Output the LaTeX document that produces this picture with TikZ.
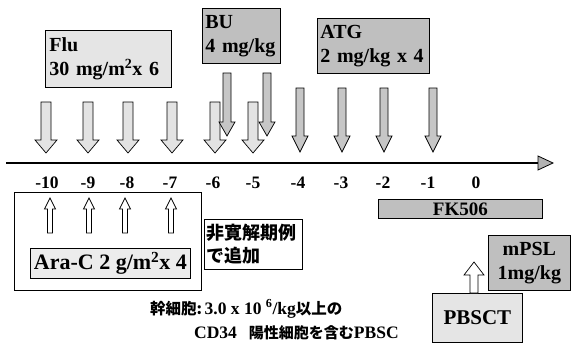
\documentclass[tikz,border=0pt]{standalone}
\usepackage{fontspec}
\setmainfont{Liberation Serif}
\newfontfamily\jp{Noto Sans CJK JP}
\newcommand{\blkarrow}[7][]{%
  \path[#1] ({#2-#6},#3) -- ({#2+#6},#3) -- ({#2+#6},#4) -- ({#2+#7},#4) -- (#2,#5) -- ({#2-#7},#4) -- ({#2-#6},#4) -- cycle;}
\tikzset{
  box/.style={draw=black, line width=0.8pt, inner sep=3pt, anchor=north west},
  darkfill/.style={fill=gray!50},
  lightfill/.style={fill=gray!20},
  bigtxt/.style={font=\fontsize{20}{24}\selectfont\bfseries},
  ticklbl/.style={font=\fontsize{17.5}{18}\selectfont\bfseries, inner sep=0pt},
  arr/.style={draw=black, line width=0.7pt},
  lightarr/.style={arr, fill=gray!22},
  darkarr/.style={arr, fill=gray!45},
  whitearr/.style={arr, fill=white},
  stemtxt/.style={anchor=west, inner sep=0pt, font=\fontsize{15.5}{18}\selectfont\bfseries},
}
\newcommand{\serifpart}[1]{{\fontsize{17.5}{18}\selectfont #1}}
\begin{document}
\begin{tikzpicture}[x=1pt, y=-1pt]
\useasboundingbox (0,0) rectangle (571,351);
% top boxes
\node[box, lightfill, bigtxt, minimum width=126pt, minimum height=57pt, text width=118pt, align=left] (flu) at (45,30) {Flu\\30 mg/m\textsuperscript{2}x 6};
\node[box, darkfill, bigtxt, minimum width=78pt, minimum height=55pt, text width=72pt, align=left] (bu) at (202,8) {BU\\4 mg/kg};
\node[box, darkfill, bigtxt, minimum width=112pt, minimum height=55pt, text width=106pt, align=left] (atg) at (317,18) {ATG\\2 mg/kg x 4};
% Flu arrows
\foreach \cx in {46,88,128,172,215,253} {
  \blkarrow[lightarr]{\cx}{102}{140}{153}{5}{11}
}
% BU arrows
\foreach \cx in {227,267} {
  \blkarrow[darkarr]{\cx}{73}{122}{136}{4}{8}
}
% ATG arrows
\foreach \cx in {300,342,384,433} {
  \blkarrow[darkarr]{\cx}{88}{136}{152}{4}{8}
}
% timeline
\coordinate (tl0) at (6,163);
\coordinate (tl1) at (540,163);
\draw[line width=2.6pt] (tl0) -- (tl1);
\path[draw=black, fill=gray!60, line width=0.8pt] (538,156) -- (553,163) -- (538,170) -- cycle;
% tick labels
\foreach \v/\x in {-10/47,-9/88,-8/127,-7/170,-6/213,-5/253,-4/298,-3/341,-2/383,-1/428,0/476} {
  \node[ticklbl] (t\v) at (\x,183) {\v};
}
% Ara-C block
\node[box, fill=white, minimum width=187pt, minimum height=98pt] (aracout) at (14,192) {};
\foreach \cx in {50,89,125,171} {
  \blkarrow[whitearr]{\cx}{233}{209}{198}{2.5}{5.5}
}
\node[box, fill=gray!15, font=\fontsize{22}{24}\selectfont\bfseries, minimum width=160pt, minimum height=30pt, inner sep=1pt] (arac) at (30,248) {Ara-C 2 g/m\textsuperscript{2}x 4};
\node[box, fill=white, minimum width=98pt, minimum height=50pt, text width=94pt, inner sep=2pt, align=left, font=\jp\bfseries\fontsize{18}{23}\selectfont] (hikan) at (204,219) {非寛解期例\\で追加};
% right side
\node[box, darkfill, font=\fontsize{19}{22}\selectfont\bfseries, minimum width=164pt, minimum height=19pt, inner sep=0pt] (fk) at (378,199) {FK506};
\node[box, darkfill, bigtxt, minimum width=82pt, minimum height=55pt, align=center] (mpsl) at (488,235) {mPSL\\1mg/kg};
\node[box, lightfill, font=\fontsize{21}{24}\selectfont\bfseries, minimum width=90pt, minimum height=49pt] (pbsct) at (432,293) {PBSCT};
\blkarrow[whitearr]{474}{293}{275}{262}{4}{10}
% bottom text
\node[stemtxt] (stem1) at (150,309) {{\jp 幹細胞:}\,\serifpart{3.0 x 10 \textsuperscript{6}/kg}{\jp 以上の}};
\node[stemtxt, font=\fontsize{15}{18}\selectfont\bfseries] (stem2) at (194,333) {\serifpart{CD34}\hspace{12pt}{\jp 陽性細胞を含む}\serifpart{PBSC}};
\end{tikzpicture}
\end{document}
